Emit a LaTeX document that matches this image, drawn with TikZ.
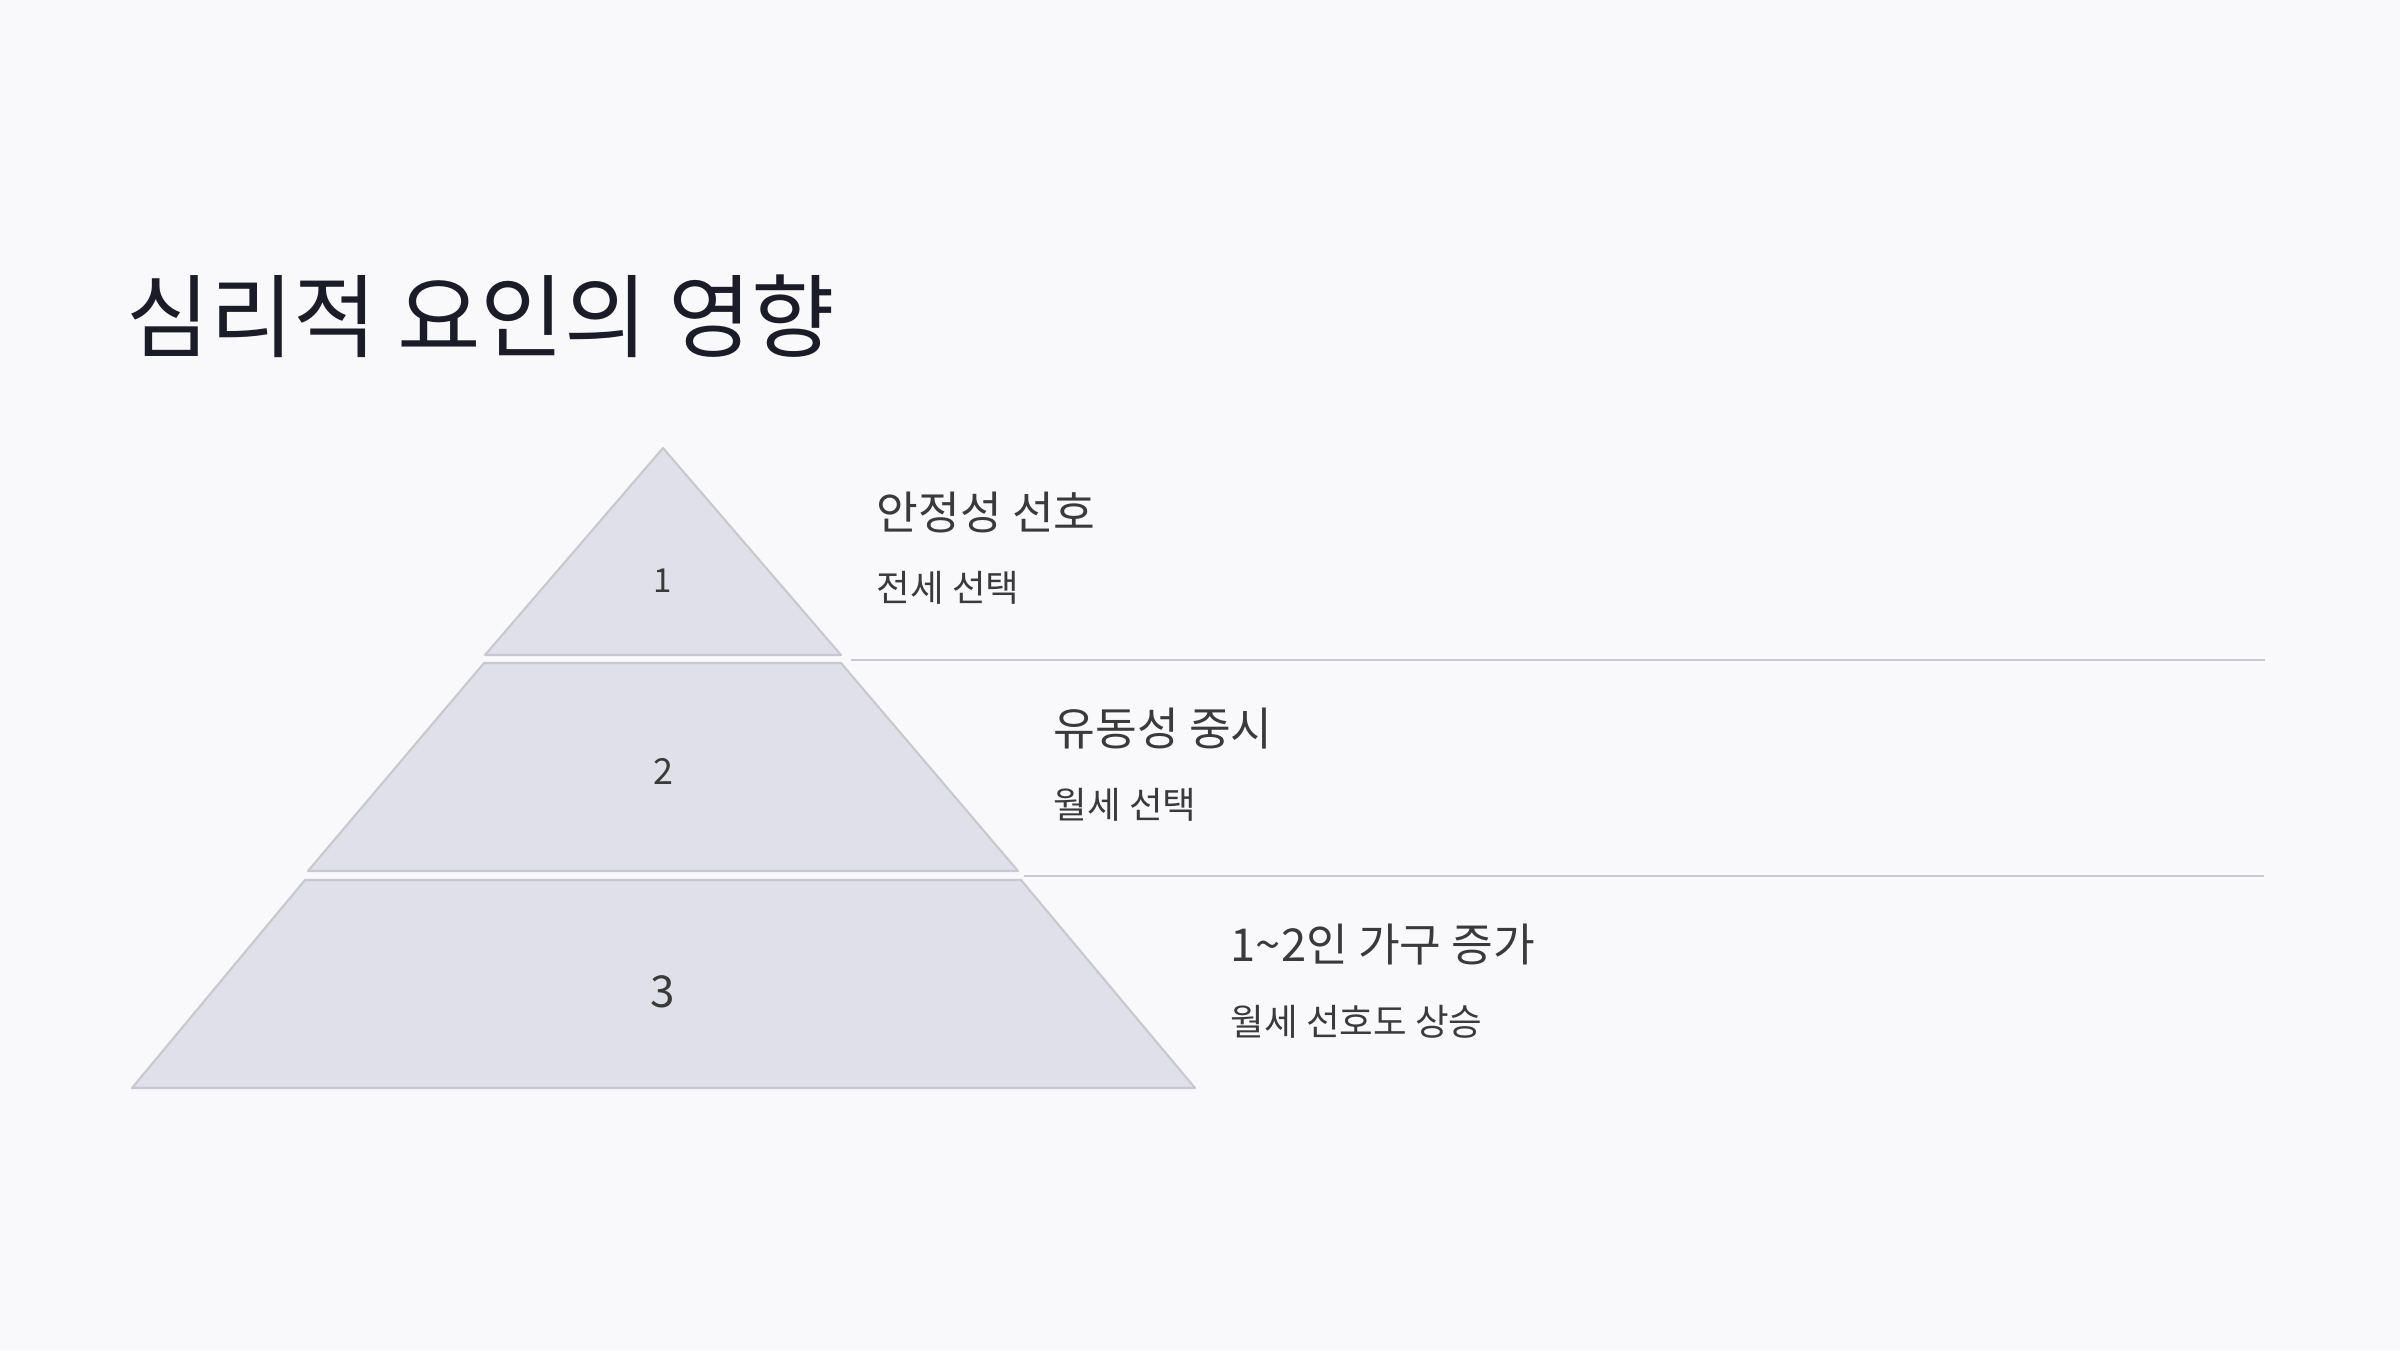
\documentclass[tikz,border=0pt]{standalone}
\usepackage{fontspec}
\setmainfont{Noto Sans CJK KR}

\definecolor{pagebg}{HTML}{F9F9FB}
\definecolor{tierfill}{HTML}{E0E0E8}
\definecolor{tierline}{HTML}{C8C8D0}
\definecolor{titleink}{HTML}{1C1C28}
\definecolor{bodyink}{HTML}{3A3A3A}

\begin{document}
\begin{tikzpicture}[x=0.01cm,y=-0.01cm,
    tier/.style={fill=tierfill, draw=tierline, line width=0.6pt, line join=round},
    sepline/.style={draw=tierline, line width=0.6pt},
    heading/.style={anchor=base west, inner sep=0pt, text=bodyink, font=\fontsize{12.9}{15}\selectfont},
    subline/.style={anchor=base west, inner sep=0pt, text=bodyink, font=\fontsize{10.4}{12}\selectfont},
    tiernum/.style={anchor=base, inner sep=0pt, text=bodyink}]

    % --- Background and page size ---
    \fill[pagebg] (0,0) rectangle (2400,1350);
    \useasboundingbox (0,0) rectangle (2400,1350);

    % --- Title ---
    \node[anchor=base west, inner sep=0pt, text=titleink,
          font=\fontsize{25.8}{30}\selectfont] (title) at (126,350) {심리적 요인의 영향};

    % --- Pyramid tiers ---
    % Top tier is a triangle, the two below are trapezoids
    \filldraw[tier] (663,448) -- (841,655) -- (485,655) -- cycle;
    \filldraw[tier] (484,663) -- (841,663) -- (1018,871) -- (308,871) -- cycle;
    \filldraw[tier] (305,880) -- (1021,880) -- (1195,1088) -- (132,1088) -- cycle;

    % --- Tier numbers ---
    \node[tiernum, font=\fontsize{9.4}{11}\selectfont] (num1) at (663,592) {1};
    \node[tiernum, font=\fontsize{10.2}{12}\selectfont] (num2) at (663,784) {2};
    \node[tiernum, font=\fontsize{12.5}{14}\selectfont] (num3) at (663,1007) {3};

    % --- Separator lines ---
    \coordinate (sep1a) at (851,660);
    \coordinate (sep1b) at (2265,660);
    \coordinate (sep2a) at (1024,876);
    \coordinate (sep2b) at (2264,876);
    \draw[sepline] (sep1a) -- (sep1b);
    \draw[sepline] (sep2a) -- (sep2b);

    % --- Tier labels ---
    \node[heading] (head1) at (876,529) {안정성 선호};
    \node[subline] (sub1) at (876,601) {전세 선택};

    \node[heading] (head2) at (1053,745) {유동성 중시};
    \node[subline] (sub2) at (1053,818) {월세 선택};

    \node[heading] (head3) at (1230,961) {1\char"007E 2인 가구 증가};
    \node[subline] (sub3) at (1230,1035) {월세 선호도 상승};

\end{tikzpicture}
\end{document}
